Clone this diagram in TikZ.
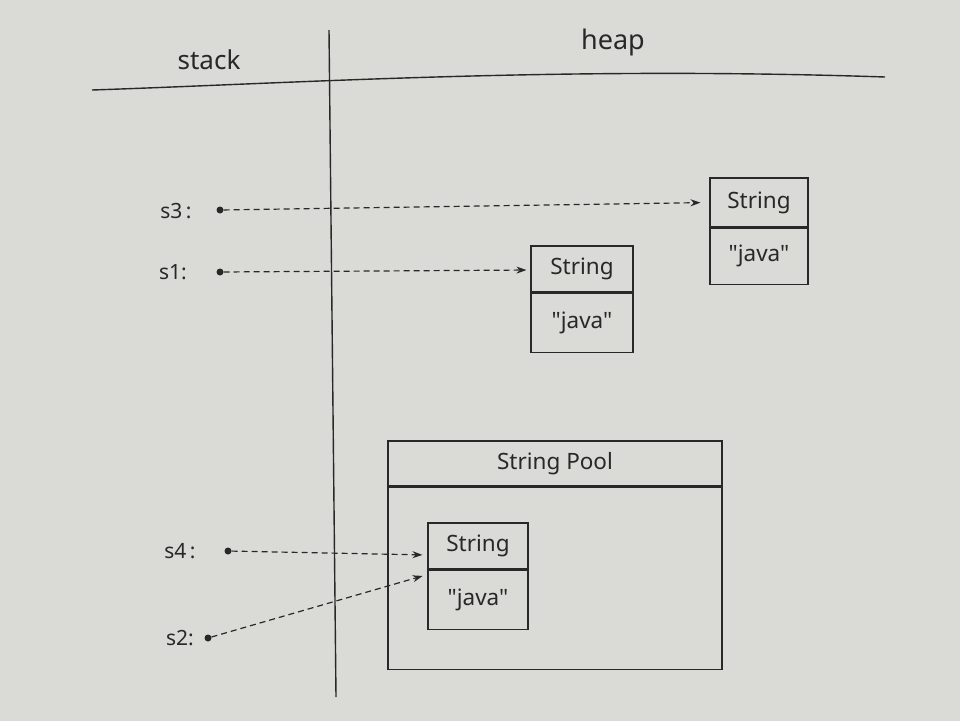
\documentclass[tikz,border=0pt]{standalone}
\usepackage{fontspec}
\setmainfont{Noto Sans}[Ligatures=TeXOff]
\usetikzlibrary{arrows.meta,calc}
\definecolor{paper}{RGB}{218,218,215}
\definecolor{ink}{RGB}{40,40,40}
\tikzset{
  cell/.style={draw=ink, line width=1.1pt, inner sep=0pt, text=ink, font=\fontsize{22.5}{26}\selectfont},
  lbl/.style={text=ink, inner sep=0pt, font=\fontsize{21}{25}\selectfont},
  ref/.style={draw=ink, line width=1.2pt, dash pattern=on 6pt off 4pt, -{Stealth[length=10pt,width=7pt]}},
  dotpt/.style={circle, fill=ink, inner sep=0pt, minimum size=7pt},
  rule/.style={draw=ink, line width=1.4pt}
}
\begin{document}
\begin{tikzpicture}[x=1pt,y=-1pt]
\fill[paper] (0,0) rectangle (960,721);
\useasboundingbox (0,0) rectangle (960,721);
% header
\node[lbl, font=\fontsize{26}{30}\selectfont] (stack) at (209,60) {stack};
\node[lbl, font=\fontsize{27}{31}\selectfont] (heap) at (613,42) {heap};
\draw[rule] (92,90) .. controls (300,83) and (560,66) .. (885,77);
\draw[rule] (329,30) -- (336,697);
% s3 box
\node[cell, minimum width=98, minimum height=49] (s3t) at (759,202.5) {String};
\node[cell, minimum width=98, minimum height=56, anchor=north] (s3b) at (s3t.south) {"java"};
% s1 box
\node[cell, minimum width=102, minimum height=46] (s1t) at (582,269) {String};
\node[cell, minimum width=102, minimum height=59, anchor=north] (s1b) at (s1t.south) {"java"};
% string pool
\node[cell, minimum width=334, minimum height=45] (poolt) at (555,463.5) {String Pool};
\node[cell, minimum width=334, minimum height=182, anchor=north] (poolb) at (poolt.south) {};
\node[cell, minimum width=100, minimum height=46] (pt) at (478,546) {String};
\node[cell, minimum width=100, minimum height=59, anchor=north] (pb) at (pt.south) {"java"};
% stack variables
\node[lbl] (l3) at (176,211) {s3\,:};
\node[dotpt] (d3) at (220,210) {};
\node[lbl] (l1) at (173,272) {s1:};
\node[dotpt] (d1) at (220,272) {};
\node[lbl] (l4) at (180,551) {s4\,:};
\node[dotpt] (d4) at (228,551) {};
\node[lbl] (l2) at (180,638) {s2:};
\node[dotpt] (d2) at (208,638) {};
% references
\draw[ref, shorten >=9pt] (d3) -- (s3t.west);
\draw[ref, shorten >=4pt] (d1) -- ($(s1t.west)+(0,1)$);
\draw[ref, shorten >=5pt] (d4) -- ($(pt.west)+(0,9)$);
\draw[ref, shorten >=5pt] (d2) -- ($(pb.north west)+(0,5)$);
\end{tikzpicture}
\end{document}
